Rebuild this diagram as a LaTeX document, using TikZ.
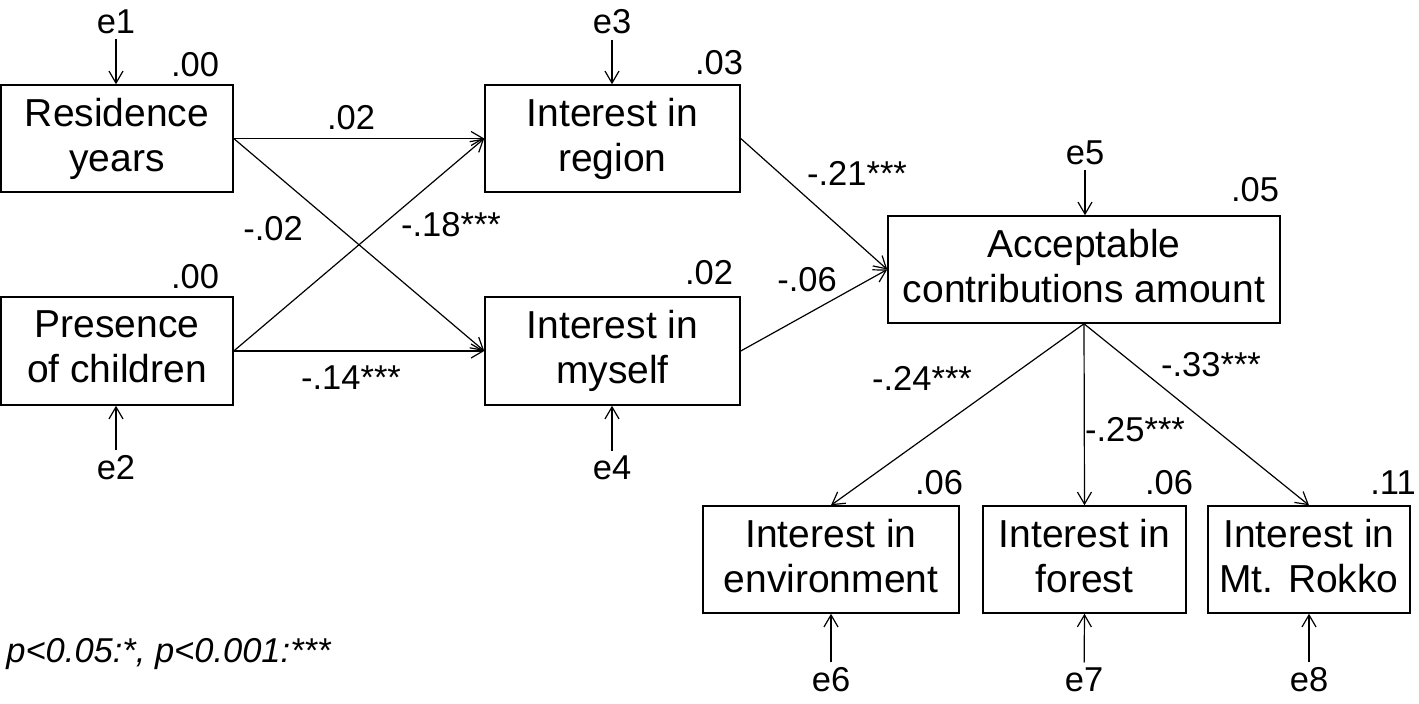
\documentclass[tikz,border=0pt]{standalone}
\usepackage{fontspec}
\setmainfont{Liberation Sans}
\usetikzlibrary{arrows.meta}
\begin{document}
\begin{tikzpicture}[x=0.5pt,y=-0.5pt,
  every node/.style={font=\fontsize{17.25}{20}\selectfont, inner sep=0pt},
  var/.style={draw, line width=0.75pt, align=center, minimum height=53.5pt,
    font=\fontsize{19.5}{22.5}\selectfont},
  lab/.style={},
  err/.style={inner sep=2.5pt},
  path/.style={line width=0.6pt, -{Straight Barb[length=6pt,width=7pt,line width=0.6pt]}}
]
\useasboundingbox (0,0) rectangle (1419,703);
% boxes
\node[var, minimum width=116pt] (res) at (117,138.5) {Residence\\years};
\node[var, minimum width=116pt, minimum height=54pt] (pres) at (117,351) {Presence\\of children\vphantom{y}};
\node[var, minimum width=127.5pt] (reg) at (612.5,138.5) {Interest in\\region};
\node[var, minimum width=127.5pt, minimum height=54pt] (mys) at (612.5,351) {Interest in\\myself};
\node[var, minimum width=196pt] (acc) at (1084,269.5) {Acceptable\\contributions amount\vphantom{y}};
\node[var, minimum width=128pt] (env) at (831,559.5) {Interest in\\environment\vphantom{y}};
\node[var, minimum width=101.5pt] (for) at (1084.5,559.5) {Interest in\\forest\vphantom{y}};
\node[var, minimum width=101pt] (rok) at (1309,559.5) {Interest in\\Mt. Rokko\vphantom{y}};
% error terms
\node[err] (e1) at (116,22) {e1};
\node[err] (e2) at (116,468) {e2};
\node[err] (e3) at (612,22) {e3};
\node[err] (e4) at (612,468) {e4};
\node[err] (e5) at (1085,153) {e5};
\node[err] (e6) at (831,680) {e6};
\node[err] (e7) at (1084,680) {e7};
\node[err] (e8) at (1309,680) {e8};
\draw[path] (e1) -- (e1 |- res.north);
\draw[path] (e2) -- (e2 |- pres.south);
\draw[path] (e3) -- (e3 |- reg.north);
\draw[path] (e4) -- (e4 |- mys.south);
\draw[path] (e5) -- (e5 |- acc.north);
\draw[path] (e6) -- (env.south);
\draw[path] (e7) -- (for.south);
\draw[path] (e8) -- (rok.south);
% structural paths
\draw[path] (res.east) -- (reg.west);
\draw[path] (res.east) -- (mys.west);
\draw[path] (pres.east) -- (reg.west);
\draw[path] (pres.east) -- (mys.west);
\draw[path] (reg.east) -- (acc.west);
\draw[path] (mys.east) -- (acc.west);
\draw[path] (acc.south) -- (env.north);
\draw[path] (acc.south) -- (for.north);
\draw[path] (acc.south) -- (rok.north);
% R-squared
\node[lab] (r1) at (195,65) {.00};
\node[lab] (r2) at (195,277) {.00};
\node[lab] (r3) at (719,63) {.03};
\node[lab] (r4) at (709,273) {.02};
\node[lab] (r5) at (1255,190) {.05};
\node[lab] (r6) at (939,483) {.06};
\node[lab] (r7) at (1169,483) {.06};
\node[lab] (r8) at (1393,483) {.11};
% coefficients
\node[lab] (c1) at (351,118) {.02};
\node[lab] (c2) at (273,229) {-.02};
\node[lab] (c3) at (451,225) {-.18***};
\node[lab] (c4) at (351,378) {-.14***};
\node[lab] (c5) at (857,173) {-.21***};
\node[lab] (c6) at (807,280) {-.06};
\node[lab] (c7) at (922,378) {-.24***};
\node[lab] (c8) at (1135,430) {-.25***};
\node[lab] (c9) at (1211,365) {-.33***};
% legend
\node[anchor=west] (leg) at (6,654) {\itshape p<0.05:*, p<0.001:***};
\end{tikzpicture}
\end{document}
